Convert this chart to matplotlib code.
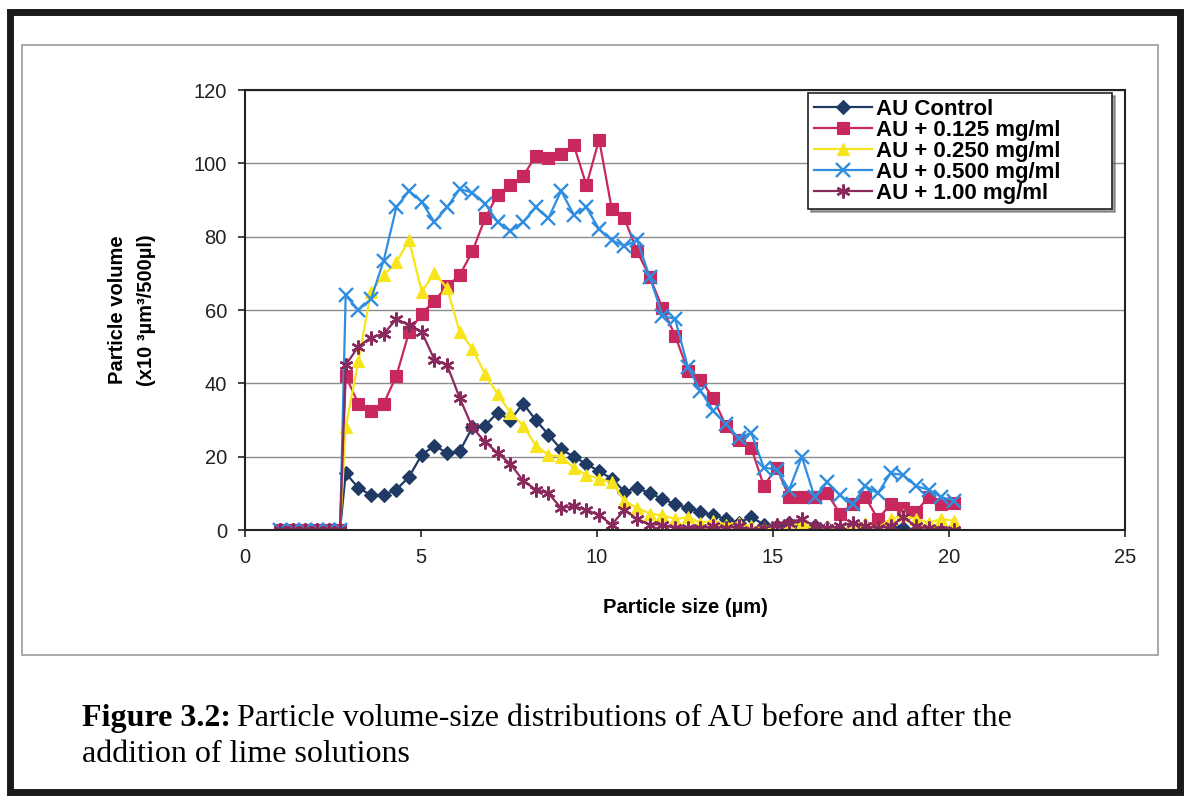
import matplotlib.pyplot as plt
from matplotlib.patches import Rectangle

# particle size (um); the first points are the empty bins below ~2.8 um
lead_x = [1.0, 1.35, 1.7, 2.05, 2.4, 2.7]
lead_y = [0, 0, 0, 0, 0, 0]
size = [2.86, 3.22, 3.58, 3.94, 4.30, 4.66, 5.02, 5.38, 5.74, 6.10,
        6.46, 6.82, 7.18, 7.54, 7.90, 8.26, 8.62, 8.98, 9.34, 9.70,
        10.06, 10.42, 10.78, 11.14, 11.50, 11.86, 12.22, 12.58, 12.94, 13.30,
        13.66, 14.02, 14.38, 14.74, 15.10, 15.46, 15.82, 16.18, 16.54, 16.90,
        17.26, 17.62, 17.98, 18.34, 18.70, 19.06, 19.42, 19.78, 20.14]

au_control = [15.5, 11.5, 9.5, 9.5, 11, 14.5, 20.5, 23, 21, 21.5,
              28, 28.5, 32, 30, 34.5, 30, 26, 22, 20, 18,
              16, 14, 10.5, 11.5, 10, 8.5, 7, 6, 5, 4,
              3, 2, 3.5, 1.5, 1, 2, 0.5, 1, 0.5, 0,
              0.5, 1, 2, 1.5, 0.5, 0, 0, 0, 0]
au_0125 = [42, 34.5, 32.5, 34.5, 42, 54, 59, 62.5, 66.5, 69.5,
           76, 85, 91.5, 94, 96.5, 102, 101.5, 102.5, 105, 94,
           106.5, 87.5, 85, 76, 69, 60.5, 53, 43.5, 41, 36,
           28.5, 24.5, 22.5, 12, 17, 9, 9, 9, 10, 4.5,
           7, 9, 3, 7, 6, 5, 9, 7, 7.5]
au_0250 = [28, 46, 65, 69.5, 73, 79, 65, 70, 66, 54,
           49.5, 42.5, 37, 32, 28.5, 23, 20.5, 20, 17, 15,
           14, 13, 8, 6, 4.5, 4, 3, 3.5, 2, 2.5,
           1.5, 2, 1, 0.5, 0, 1, 2, 0, 1, 0,
           1, 2, 0.5, 3, 4, 3, 2, 3, 2.5]
au_0500 = [64, 60, 63, 73.5, 88, 92.5, 89.5, 84, 88, 93,
           92, 89, 84, 81.5, 84, 88, 85, 92.5, 86, 88,
           82, 79, 77.5, 79, 69, 58.5, 57.5, 44.5, 38, 32.5,
           29, 25, 26.5, 17, 16.5, 11, 20, 9, 13, 9.5,
           7, 12, 10, 15.5, 15, 12, 11, 9, 8]
au_100 = [45, 50, 52.5, 53.5, 57.5, 56, 54, 46.5, 45, 36,
          28, 24, 21, 18, 13.5, 11, 10, 6, 6.5, 5.5,
          4, 1.5, 5.5, 3, 1.5, 1.5, 0.5, 0.5, 0.5, 1,
          0.5, 1, 0, 0.5, 1.5, 2, 3, 1, 0.5, 1,
          2, 1, 0.5, 1, 3.5, 1, 0.5, 0, 0]

labels = ['AU Control', 'AU + 0.125 mg/ml', 'AU + 0.250 mg/ml',
          'AU + 0.500 mg/ml', 'AU + 1.00 mg/ml']
series = [au_control, au_0125, au_0250, au_0500, au_100]
colors = ['#1f3a64', '#c8285c', '#f7e41c', '#2f8ee0', '#8a2a5c']
markers = ['D', 's', '^', 'x', (6, 2, 0)]
msizes = [7.5, 8.5, 8.5, 10, 10]

plt.rcParams['font.family'] = ['Liberation Sans', 'DejaVu Sans']

fig = plt.figure(figsize=(11.9, 8), dpi=100)
fig.patch.set_facecolor('white')

# outer thick frame and inner chart-area box
fig.patches.append(Rectangle((10 / 1190, 8 / 800), 1170 / 1190, 780 / 800,
                             transform=fig.transFigure, fill=False,
                             edgecolor='#1a1a1a', linewidth=5))
fig.patches.append(Rectangle((22 / 1190, 145 / 800), 1136 / 1190, 610 / 800,
                             transform=fig.transFigure, fill=False,
                             edgecolor='#9a9a9a', linewidth=1.2))

ax = fig.add_axes([245 / 1190, 1 - 530 / 800, 880 / 1190, 440 / 800])
xs = lead_x + size
for vals, lab, c, m, ms in zip(series, labels, colors, markers, msizes):
    ax.plot(xs, lead_y + vals, color=c, marker=m, markersize=ms,
            markeredgewidth=1.7 if m in ('x', (6, 2, 0)) else 0.8,
            markeredgecolor=c, linewidth=1.6, label=lab)

ax.set_xlim(0, 25)
ax.set_ylim(0, 120)
ax.set_xticks([0, 5, 10, 15, 20, 25])
ax.set_yticks([0, 20, 40, 60, 80, 100, 120])
ax.yaxis.grid(True, color='#8c8c8c', linewidth=1)
ax.set_axisbelow(True)
for s in ax.spines.values():
    s.set_linewidth(1.5)
    s.set_color('#222222')
ax.tick_params(axis='both', labelsize=14.5, length=5, width=1.2,
               direction='out', pad=8, colors='#222222')

ax.set_xlabel('Particle size (µm)', fontsize=14.5, fontweight='bold', labelpad=22)
fig.text(132 / 1190, 1 - 310 / 800, 'Particle volume\n(x10 ³µm³/500µl)',
         rotation=90, ha='center', va='center', fontsize=14.5,
         fontweight='bold', linespacing=1.7)

leg = ax.legend(loc='upper right', bbox_to_anchor=(0.64, 0.5, 0.345, 0.493),
                mode='expand', borderaxespad=0, frameon=True, fancybox=False,
                shadow=True, handlelength=2.6, handletextpad=0.2, borderpad=0.25,
                labelspacing=0.0, prop={'weight': 'bold', 'size': 16})
leg.get_frame().set_edgecolor('#222222')
leg.get_frame().set_linewidth(1.2)

# caption
cap1 = fig.text(82 / 1190, 1 - 726 / 800, 'Figure 3.2:', family='Liberation Serif',
                fontsize=23, fontweight='bold', va='baseline')
fig.canvas.draw()
bb = cap1.get_window_extent()
fig.text((bb.x1 + 6) / 1190, 1 - 726 / 800,
         'Particle volume-size distributions of AU before and after the',
         family='Liberation Serif', fontsize=23, va='baseline')
fig.text(82 / 1190, 1 - 762 / 800, 'addition of lime solutions',
         family='Liberation Serif', fontsize=23, va='baseline')

fig.savefig('out.png', dpi=100)
